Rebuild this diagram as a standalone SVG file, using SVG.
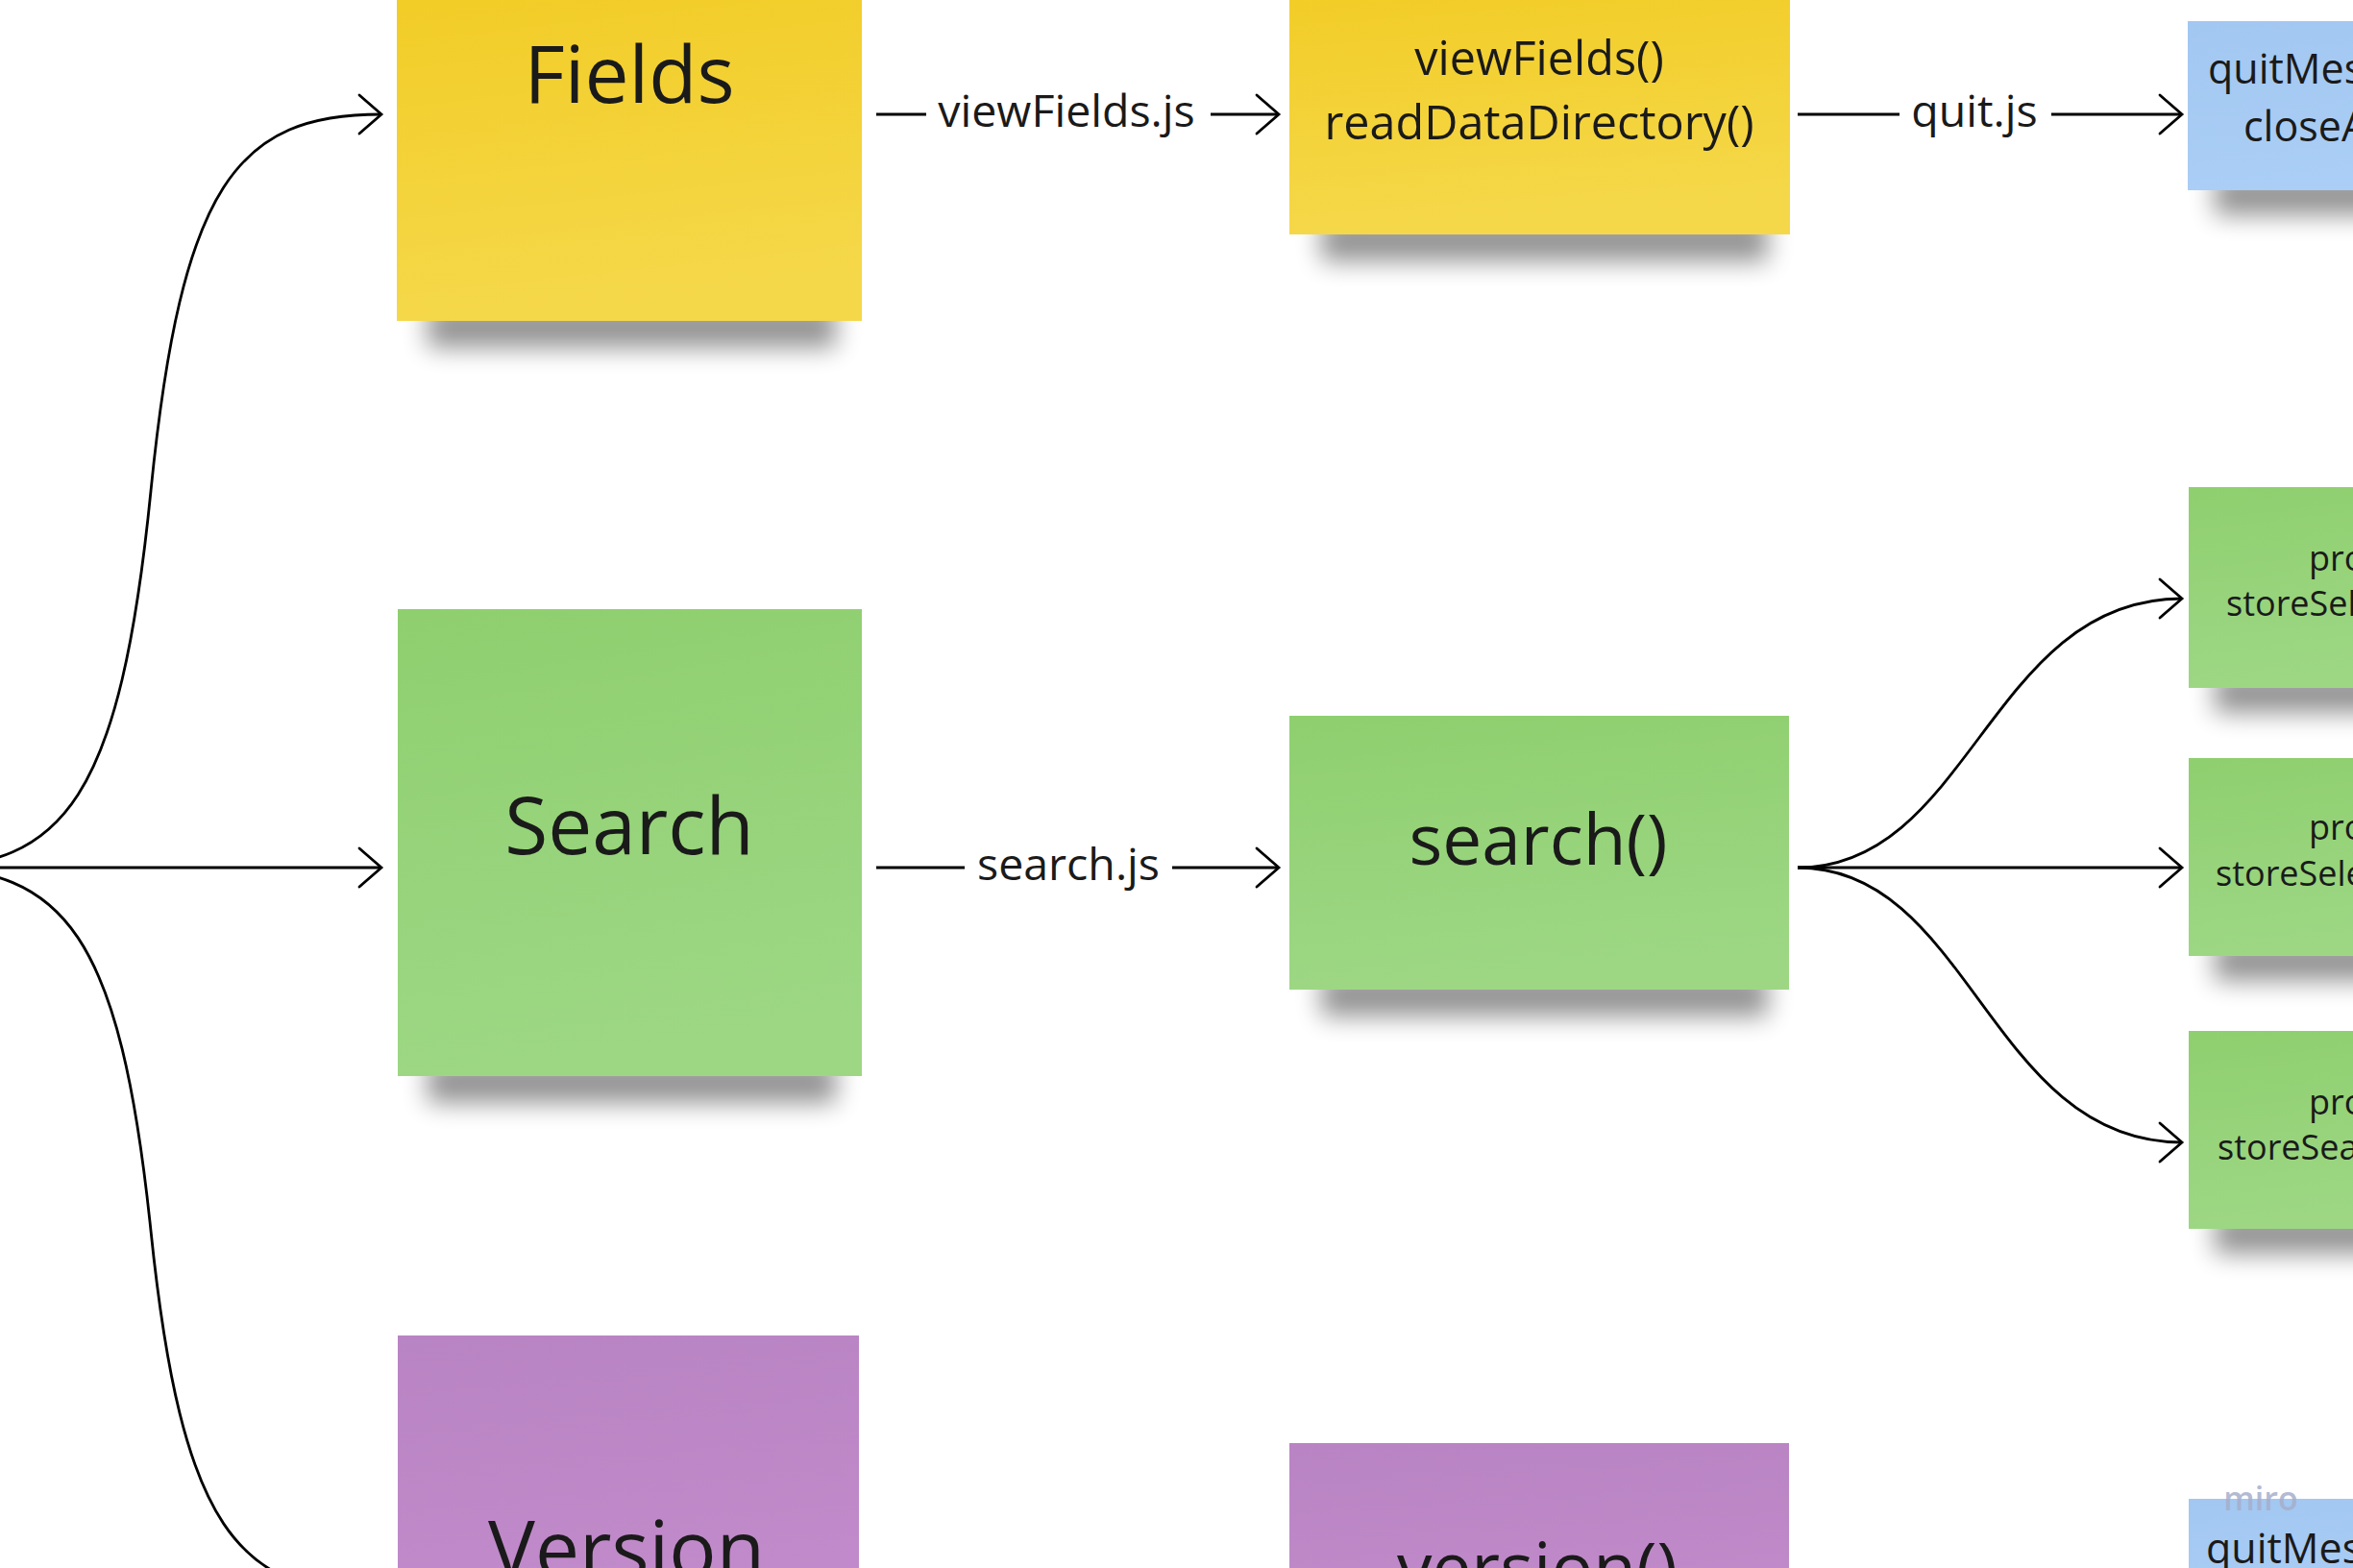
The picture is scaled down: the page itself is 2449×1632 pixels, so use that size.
<svg xmlns="http://www.w3.org/2000/svg" width="2449" height="1632" viewBox="0 0 2449 1632">
<style>
.t{font-family:"Open Sans","Noto Sans","Liberation Sans",sans-serif;fill:#1a1a1a;}
.big{font-size:82px;text-anchor:middle;}
.mid{font-size:73px;text-anchor:middle;}
.fn{font-size:48.5px;text-anchor:middle;}
.lbl{font-size:46.5px;text-anchor:middle;}
.sm{font-size:43px;}
.xs{font-size:36px;}
.c{fill:none;stroke:#000;stroke-width:2.8;}
.sh{fill:#000;opacity:0.42;filter:url(#blur);}
</style>
<defs>
<filter id="blur" x="-30%" y="-100%" width="160%" height="300%"><feGaussianBlur stdDeviation="13"/></filter>
<linearGradient id="gy" x1="0" y1="0" x2="0.15" y2="1"><stop offset="0" stop-color="#f2cc25"/><stop offset="1" stop-color="#f5d84a"/></linearGradient>
<linearGradient id="gg" x1="0" y1="0" x2="0.15" y2="1"><stop offset="0" stop-color="#8fcf6f"/><stop offset="1" stop-color="#9dd784"/></linearGradient>
<linearGradient id="gp" x1="0" y1="0" x2="0.15" y2="1"><stop offset="0" stop-color="#b984c3"/><stop offset="1" stop-color="#c28bcb"/></linearGradient>
<linearGradient id="gb" x1="0" y1="0" x2="0.15" y2="1"><stop offset="0" stop-color="#a2c7f1"/><stop offset="1" stop-color="#aacef5"/></linearGradient>
<marker id="ah" viewBox="-30 -26 34 52" refX="0" refY="0" markerWidth="34" markerHeight="52" markerUnits="userSpaceOnUse" orient="auto" overflow="visible">
<path d="M-23,-20 L0,0 L-23,20" fill="none" stroke="#000" stroke-width="2.8" stroke-linecap="round"/>
</marker>
</defs>
<rect width="2449" height="1632" fill="#ffffff"/>

<g id="connectors">
<path class="c" d="M-83,903 C67,903 125,831 157,511 C189,191 247,119 397,119" marker-end="url(#ah)"/>
<path class="c" d="M-83,903 L397,903" marker-end="url(#ah)"/>
<path class="c" d="M-83,903 C67,903 125,972 157,1281 C189,1590 247,1659 397,1659" marker-end="url(#ah)"/>
<path class="c" d="M912,119 L964,119"/>
<text class="t lbl" x="1110" y="132">viewFields.js</text>
<path class="c" d="M1260,119 L1331,119" marker-end="url(#ah)"/>
<path class="c" d="M1871,119 L1977,119"/>
<text class="t lbl" x="2055" y="132">quit.js</text>
<path class="c" d="M2135,119 L2271,119" marker-end="url(#ah)"/>
<path class="c" d="M912,903 L1004,903"/>
<text class="t lbl" x="1112" y="916">search.js</text>
<path class="c" d="M1220,903 L1331,903" marker-end="url(#ah)"/>
<path class="c" d="M1871,903 C2051,903 2071,623 2271,623" marker-end="url(#ah)"/>
<path class="c" d="M1871,903 L2271,903" marker-end="url(#ah)"/>
<path class="c" d="M1871,903 C2051,903 2071,1189 2271,1189" marker-end="url(#ah)"/>
</g>

<g id="node-fields">
<rect class="sh" x="445" y="318" width="425" height="44"/>
<rect x="413" y="-20" width="484" height="354" fill="url(#gy)"/>
<text class="t big" x="655" y="107">Fields</text>
</g>

<g id="node-viewfields">
<rect class="sh" x="1375" y="228" width="465" height="44"/>
<rect x="1342" y="-20" width="521" height="264" fill="url(#gy)"/>
<text class="t fn" x="1602" y="78">viewFields()</text>
<text class="t fn" x="1602" y="145">readDataDirectory()</text>
</g>

<g id="node-quit-top">
<rect class="sh" x="2305" y="182" width="205" height="42"/>
<rect x="2277" y="22" width="260" height="176" fill="url(#gb)"/>
<text class="t sm" x="2298" y="87">quitMes</text>
<text class="t sm" x="2335" y="147">closeA</text>
</g>

<g id="node-search">
<rect class="sh" x="445" y="1104" width="425" height="44"/>
<rect x="414" y="634" width="483" height="486" fill="url(#gg)"/>
<text class="t big" x="655" y="889">Search</text>
</g>

<g id="node-searchfn">
<rect class="sh" x="1375" y="1014" width="465" height="44"/>
<rect x="1342" y="745" width="520" height="285" fill="url(#gg)"/>
<text class="t mid" x="1601" y="900">search()</text>
</g>

<g id="node-green-1">
<rect class="sh" x="2305" y="700" width="205" height="42"/>
<rect x="2278" y="507" width="260" height="209" fill="url(#gg)"/>
<text class="t xs" x="2403" y="594">pro</text>
<text class="t xs" x="2317" y="641">storeSel</text>
</g>

<g id="node-green-2">
<rect class="sh" x="2305" y="979" width="205" height="42"/>
<rect x="2278" y="789" width="260" height="206" fill="url(#gg)"/>
<text class="t xs" x="2403" y="874">pro</text>
<text class="t xs" x="2306" y="922">storeSele</text>
</g>

<g id="node-green-3">
<rect class="sh" x="2305" y="1263" width="205" height="42"/>
<rect x="2278" y="1073" width="260" height="206" fill="url(#gg)"/>
<text class="t xs" x="2403" y="1160">pro</text>
<text class="t xs" x="2308" y="1207">storeSea</text>
</g>

<g id="node-version">
<rect x="414" y="1390" width="480" height="300" fill="url(#gp)"/>
<text class="t big" x="652" y="1642">Version</text>
</g>

<g id="node-versionfn">
<rect x="1342" y="1502" width="520" height="200" fill="url(#gp)"/>
<text class="t mid" x="1600" y="1658">version()</text>
</g>

<g id="node-quit-bottom">
<rect x="2278" y="1560" width="260" height="120" fill="url(#gb)"/>
<text x="2353" y="1572" font-family="'Open Sans','Noto Sans',sans-serif" font-size="34" font-weight="600" fill="#a6aecb" fill-opacity="0.85" text-anchor="middle">miro</text>
<text class="t sm" x="2296" y="1627">quitMes</text>
</g>
</svg>
